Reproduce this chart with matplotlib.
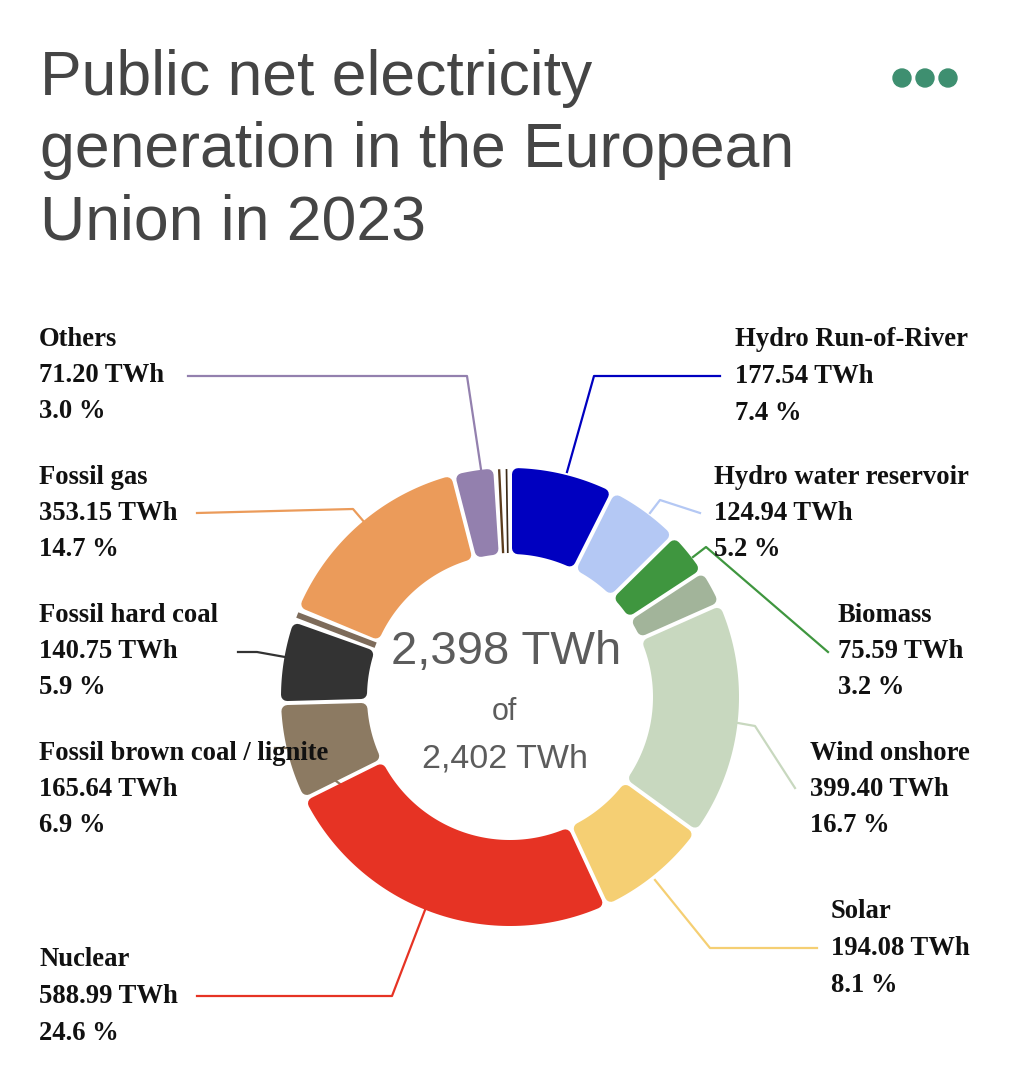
import numpy as np
import matplotlib
matplotlib.use("Agg")
import matplotlib.pyplot as plt
from matplotlib.patches import Polygon, Circle

# slices clockwise from 12 o'clock (TWh)
names = ["Hydro Run-of-River", "Hydro water reservoir", "Biomass", "Wind offshore",
         "Wind onshore", "Solar", "Nuclear", "Fossil brown coal / lignite",
         "Fossil hard coal", "Fossil oil", "Fossil gas", "Others",
         "Geothermal", "Fossil coal-derived gas"]
twh = [177.54, 124.94, 75.59, 62.0, 399.40, 194.08, 588.99, 165.64,
       140.75, 20.0, 353.15, 71.20, 13.0, 11.72]
colors = ["#0000c0", "#b4c8f4", "#3f963f", "#a2b49a", "#c8d8bf", "#f5cf73",
          "#e63324", "#8c7a62", "#333333", "#7d6b5a", "#eb9b5a", "#9380ae",
          "#5c3d1e", "#3a2a18"]
labelled = [0, 1, 2, 4, 5, 6, 7, 8, 10, 11]
total_shown = "2,398 TWh"
total_all = "2,402 TWh"

W, H = 1013, 1072
fig = plt.figure(figsize=(W / 100, H / 100), dpi=100)
ax = fig.add_axes([0, 0, 1, 1])
ax.set_xlim(0, W)
ax.set_ylim(H, 0)
ax.set_aspect("equal")
ax.axis("off")

cx, cy = 510, 697
r_out, r_in = 229, 143
rc, gap = 6, 4


def pt(a, r):
    return cx + r * np.sin(a), cy - r * np.cos(a)


vals = np.array(twh)
ends = np.cumsum(vals) / vals.sum() * 2 * np.pi
starts = np.concatenate([[0], ends[:-1]])
for a1, a2, c in zip(starts, ends, colors):
    span_in = (a2 - a1) * (r_in + rc)
    if span_in < gap + 2 * rc + 1:
        # too thin for a rounded block, draw as a bar
        am = (a1 + a2) / 2
        lw = max(1.5, (a2 - a1) * (r_in + r_out) / 2 - gap)
        xs, ys = zip(pt(am, r_in + 1), pt(am, r_out - 1))
        ax.plot(xs, ys, color=c, lw=lw * 0.72, solid_capstyle="butt", zorder=3)
        continue
    d = gap / 2 + rc
    ro, ri = r_out - rc, r_in + rc
    ta = np.linspace(a1 + np.arcsin(d / ro), a2 - np.arcsin(d / ro), 80)
    tb = np.linspace(a2 - np.arcsin(d / ri), a1 + np.arcsin(d / ri), 80)
    xy = [pt(a, ro) for a in ta] + [pt(a, ri) for a in tb]
    ax.add_patch(Polygon(xy, closed=True, facecolor=c, edgecolor=c,
                         lw=2 * rc * 0.72, joinstyle="round", zorder=3))

# labels: (x, y of first line)
label_pos = {0: (735, 340), 1: (714, 477), 2: (838, 615), 4: (810, 753),
             5: (831, 912), 6: (39, 960), 7: (39, 753), 8: (39, 615),
             10: (39, 477), 11: (39, 339)}
leaders = {
    0: [(720, 376), (594, 376), (567, 472)],
    1: [(700, 513), (660, 500), (650, 513)],
    2: [(828, 652), (706, 547), (693, 557)],
    4: [(795, 788), (755, 726), (738, 723)],
    5: [(817, 948), (710, 948), (655, 880)],
    6: [(197, 996), (392, 996), (425, 910)],
    7: [(275, 748), (292, 748), (348, 790)],
    8: [(238, 652), (257, 652), (285, 657)],
    10: [(197, 513), (353, 509), (365, 523)],
    11: [(188, 376), (467, 376), (482, 476)],
}
pct = vals / vals.sum() * 100
for i in labelled:
    x, y = label_pos[i]
    lines = [names[i], f"{twh[i]:.2f} TWh", f"{pct[i]:.1f} %"]
    for k, s in enumerate(lines):
        ax.text(x, y + k * 36.5, s, family="Liberation Serif", weight="bold",
                fontsize=19.2, color="#111111", ha="left", va="center", zorder=5)
    lx, ly = zip(*leaders[i])
    ax.plot(lx, ly, color=colors[i], lw=1.6, zorder=2)

# centre text
ax.text(cx - 4, 652, total_shown, family="Liberation Sans", fontsize=34,
        color="#5c5c5c", ha="center", va="center", zorder=4)
ax.text(cx - 6, 712, "of", family="Liberation Sans", fontsize=22,
        color="#5c5c5c", ha="center", va="center", zorder=4)
ax.text(cx - 5, 759, total_all, family="Liberation Sans", fontsize=24.5,
        color="#5c5c5c", ha="center", va="center", zorder=4)

# title
title_lines = ["Public net electricity", "generation in the European", "Union in 2023"]
for k, s in enumerate(title_lines):
    ax.text(40, 95 + k * 72.5, s, family="Liberation Sans", fontsize=45,
            color="#454545", ha="left", va="baseline")

for x in (902, 925, 948):
    ax.add_patch(Circle((x, 78), 9, color="#3e8f70"))

fig.savefig("out.png", dpi=100)
